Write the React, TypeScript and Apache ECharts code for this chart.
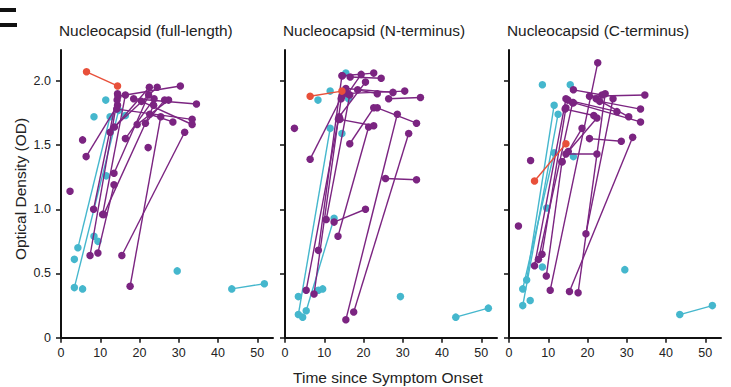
import React, { useEffect, useRef } from "react";
import * as echarts from "echarts";

const panelTitles = [
  "Nucleocapsid (full-length)",
  "Nucleocapsid (N-terminus)",
  "Nucleocapsid (C-terminus)",
];
const xTicks = [0, 10, 20, 30, 40, 50];
const yTicks = [0, 0.5, 1, 1.5, 2];
const yTickLabels = ["0", "0.5", "1.0", "1.5", "2.0"];
const xTitle = "Time since Symptom Onset";
const yTitle = "Optical Density (OD)";

// Segments: [x1, y1, x2, y2]; points: [x, y]
const fullRed = [[6.5, 2.07, 14.4, 1.96]];
const fullCyanSeg = [
  [4.3, 0.7, 12.5, 1.72],
  [3.4, 0.39, 14.7, 1.77],
  [43.5, 0.38, 51.8, 0.42],
];
const fullCyanPts = [
  [11.4, 1.85], [8.4, 1.72], [11.5, 1.26], [3.4, 0.61], [5.5, 0.38],
  [8.4, 0.79], [9.4, 0.75], [16.4, 1.73], [29.6, 0.52],
];
const fullPurpleSeg = [
  [6.4, 1.41, 14.4, 1.81],
  [7.4, 0.64, 14.3, 1.85],
  [9.4, 0.66, 13.5, 1.19],
  [8.3, 1.0, 14.4, 1.9],
  [10.6, 0.96, 16.4, 1.89],
  [10.9, 0.96, 23.6, 1.81],
  [13.5, 1.28, 22.3, 1.89],
  [12.5, 1.6, 22.5, 1.95],
  [13.6, 1.64, 24.5, 1.95],
  [14.5, 1.88, 30.4, 1.96],
  [16.4, 1.55, 23.7, 1.86],
  [14.2, 1.78, 33.4, 1.7],
  [18.5, 1.86, 34.5, 1.82],
  [20.5, 1.84, 33.4, 1.66],
  [19.4, 1.66, 27.4, 1.85],
  [21.5, 1.67, 26.4, 1.85],
  [22.6, 1.74, 28.5, 1.68],
  [17.6, 0.4, 25.4, 1.72],
  [15.5, 0.64, 31.5, 1.6],
];
const fullPurplePts = [[5.5, 1.54], [2.3, 1.14], [22.2, 1.48]];

const nRed = [[6.4, 1.88, 14.5, 1.92]];
const nCyanSeg = [
  [3.4, 0.18, 11.5, 1.63],
  [5.4, 0.21, 12.5, 0.93],
  [43.5, 0.16, 51.8, 0.23],
];
const nCyanPts = [
  [8.4, 1.85], [11.5, 1.92], [15.5, 2.06], [14.5, 1.59], [16.2, 1.86],
  [3.4, 0.32], [4.5, 0.16], [8.5, 0.37], [9.6, 0.38], [29.4, 0.32],
];
const nPurpleSeg = [
  [6.4, 1.39, 14.5, 1.88],
  [5.4, 0.37, 13.6, 1.7],
  [7.4, 0.34, 14.3, 1.86],
  [8.5, 0.68, 14.5, 2.04],
  [10.5, 0.92, 16.5, 1.89],
  [12.5, 0.9, 20.5, 1.0],
  [13.5, 0.79, 21.3, 1.64],
  [15.5, 0.14, 28.6, 1.74],
  [17.5, 0.2, 31.5, 1.59],
  [25.6, 1.24, 33.5, 1.23],
  [16.6, 2.03, 24.5, 2.02],
  [14.6, 2.04, 22.6, 2.06],
  [16.0, 1.9, 19.4, 2.05],
  [13.8, 1.72, 20.5, 1.99],
  [15.5, 1.94, 27.5, 1.91],
  [14.8, 1.9, 30.5, 1.92],
  [18.5, 1.93, 23.5, 1.9],
  [26.4, 1.86, 34.5, 1.87],
  [16.5, 1.51, 22.6, 1.79],
  [23.5, 1.79, 33.5, 1.67],
  [14.0, 1.7, 22.6, 1.65],
];
const nPurplePts = [[2.4, 1.63]];

const cRed = [[6.5, 1.22, 14.5, 1.51]];
const cCyanSeg = [
  [3.5, 0.25, 12.5, 1.74],
  [4.5, 0.45, 11.5, 1.81],
  [3.5, 0.38, 11.5, 1.44],
  [43.5, 0.18, 51.8, 0.25],
];
const cCyanPts = [
  [8.5, 1.97], [15.6, 1.97], [16.4, 1.41], [8.5, 0.55], [9.6, 1.01],
  [5.4, 0.29], [29.5, 0.53],
];
const cPurpleSeg = [
  [6.5, 0.56, 14.5, 1.86],
  [7.5, 0.61, 16.2, 1.83],
  [8.4, 0.65, 14.5, 1.79],
  [9.5, 0.48, 13.5, 1.37],
  [10.5, 0.37, 22.6, 2.14],
  [15.4, 0.36, 31.5, 1.56],
  [17.6, 0.35, 24.5, 1.9],
  [19.6, 0.81, 26.5, 1.86],
  [20.5, 1.55, 28.6, 1.53],
  [14.5, 1.43, 22.4, 1.43],
  [16.4, 1.93, 23.7, 1.89],
  [20.5, 1.88, 34.6, 1.89],
  [22.2, 1.86, 30.5, 1.72],
  [23.1, 1.84, 33.5, 1.78],
  [15.0, 1.85, 27.5, 1.76],
  [16.4, 1.83, 33.5, 1.68],
  [14.3, 1.78, 21.6, 1.73],
  [13.5, 1.37, 18.6, 1.63],
  [15.1, 1.45, 22.4, 1.71],
];
const cPurplePts = [[2.4, 0.87], [5.5, 1.38]];

const panels = [
  { red: fullRed, cyanSeg: fullCyanSeg, cyanPts: fullCyanPts, purpleSeg: fullPurpleSeg, purplePts: fullPurplePts },
  { red: nRed, cyanSeg: nCyanSeg, cyanPts: nCyanPts, purpleSeg: nPurpleSeg, purplePts: nPurplePts },
  { red: cRed, cyanSeg: cCyanSeg, cyanPts: cCyanPts, purpleSeg: cPurpleSeg, purplePts: cPurplePts },
];

const PURPLE = "#7b2481";
const CYAN = "#45b7cd";
const RED = "#e8503a";
const FONT = "Liberation Sans, Arial, sans-serif";

const gridLefts = [61, 285, 509];
const GRID_TOP = 50;
const GRID_W = 212;
const GRID_H = 287.7;

export default function App() {
  const ref = useRef<HTMLDivElement>(null);
  useEffect(() => {
    if (!ref.current) return;
    const chart = echarts.init(ref.current, null, { renderer: "svg" });
    const series: any[] = [];
    const segSeries = (segs: number[][], color: string, gi: number, z: number) =>
      segs.forEach((s) =>
        series.push({
          type: "line",
          xAxisIndex: gi,
          yAxisIndex: gi,
          data: [[s[0], s[1]], [s[2], s[3]]],
          symbol: "circle",
          symbolSize: 7.5,
          showSymbol: true,
          lineStyle: { color, width: 1.4 },
          itemStyle: { color, opacity: 1 },
          z,
          silent: true,
        })
      );
    const ptSeries = (pts: number[][], color: string, gi: number, z: number) =>
      series.push({
        type: "scatter",
        xAxisIndex: gi,
        yAxisIndex: gi,
        data: pts,
        symbol: "circle",
        symbolSize: 7.5,
        itemStyle: { color, opacity: 1 },
        z,
        silent: true,
      });
    panels.forEach((p, gi) => {
      segSeries(p.cyanSeg, CYAN, gi, 2);
      ptSeries(p.cyanPts, CYAN, gi, 2);
      segSeries(p.purpleSeg, PURPLE, gi, 3);
      ptSeries(p.purplePts, PURPLE, gi, 3);
      segSeries(p.red, RED, gi, 4);
    });

    const axisLine = { lineStyle: { color: "#111", width: 2 } };
    chart.setOption({
      animation: false,
      textStyle: { fontFamily: FONT },
      title: panelTitles.map((t, i) => ({
        text: t,
        left: gridLefts[i] - 2,
        top: 23,
        padding: 0,
        textStyle: { fontSize: 15.4, fontWeight: "normal", color: "#222", fontFamily: FONT },
      })),
      grid: gridLefts.map((l) => ({ left: l, top: GRID_TOP, width: GRID_W, height: GRID_H })),
      xAxis: gridLefts.map((_, i) => ({
        type: "value",
        gridIndex: i,
        min: 0,
        max: 54,
        axisLine,
        splitLine: { show: false },
        axisTick: { length: 5, customValues: xTicks, lineStyle: { color: "#111", width: 1.5 } },
        axisLabel: { customValues: xTicks, fontSize: 12.5, color: "#222", margin: 9, fontFamily: FONT },
      })),
      yAxis: gridLefts.map((_, i) => ({
        type: "value",
        gridIndex: i,
        min: 0,
        max: 2.24,
        axisLine: { show: true, ...axisLine },
        splitLine: { show: false },
        axisTick: { show: true, length: 5, customValues: yTicks, lineStyle: { color: "#111", width: 1.5 } },
        axisLabel: {
          show: i === 0,
          customValues: yTicks,
          fontSize: 12.5,
          color: "#222",
          margin: 10,
          fontFamily: FONT,
          formatter: (v: number) => {
            const idx = yTicks.indexOf(v);
            return idx >= 0 ? yTickLabels[idx] : "";
          },
        },
      })),
      graphic: [
        { type: "rect", left: 0, top: 8, shape: { x: 0, y: 0, width: 16, height: 4 }, style: { fill: "#111" } },
        { type: "rect", left: 0, top: 23, shape: { x: 0, y: 0, width: 17, height: 4 }, style: { fill: "#111" } },
        {
          type: "text",
          x: 20,
          y: 189,
          rotation: Math.PI / 2,
          style: {
            text: yTitle,
            fontSize: 15.5,
            fontFamily: FONT,
            fill: "#222",
            textAlign: "center",
            textVerticalAlign: "middle",
          },
        },
        {
          type: "text",
          x: 388,
          y: 377,
          style: {
            text: xTitle,
            fontSize: 15.5,
            fontFamily: FONT,
            fill: "#222",
            textAlign: "center",
            textVerticalAlign: "middle",
          },
        },
      ],
      series,
    });
    return () => chart.dispose();
  }, []);
  return (
    <div
      ref={ref}
      style={{ position: "fixed", left: 0, top: 0, width: 731, height: 387, background: "#fff" }}
    />
  );
}
